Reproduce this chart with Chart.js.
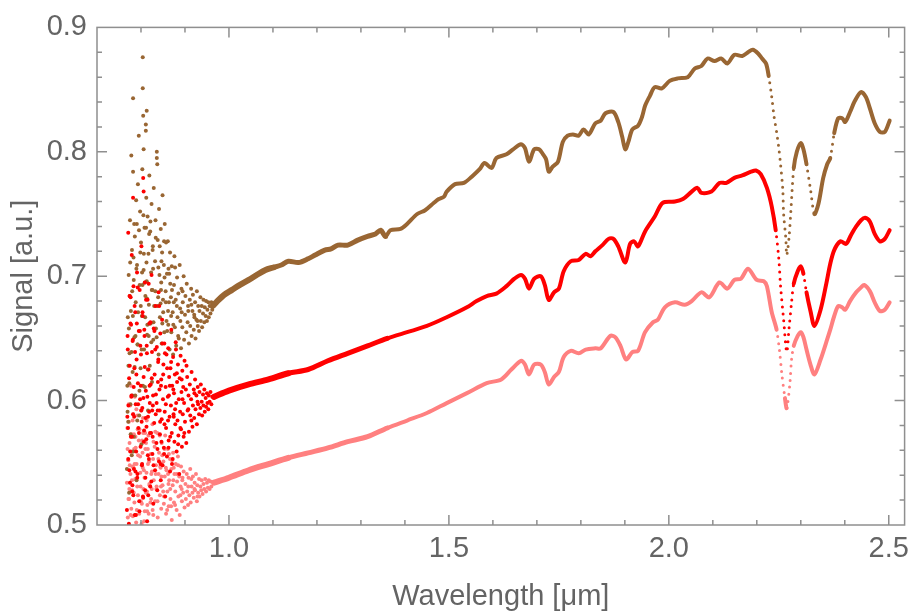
<!DOCTYPE html>
<html>
<head>
<meta charset="utf-8">
<script src="https://cdn.jsdelivr.net/npm/chart.js@4.4.0/dist/chart.umd.min.js"></script>
<style>
  html, body { margin: 0; padding: 0; background: #fff; }
</style>
</head>
<body>
<canvas id="spectrumChart" width="916" height="612"></canvas>
<script>
// tick values
const xTickValues = [1.0, 1.5, 2.0, 2.5];
const yTickValues = [0.5, 0.6, 0.7, 0.8, 0.9];

// noisy short-wavelength part, [wavelength, signal]
const brownCloud = [
    [0.768,0.545],[0.769,0.612],[0.770,0.667],[0.771,0.583],[0.772,0.701],[0.773,0.526],[0.774,0.638],[0.775,0.745],[0.776,0.597],[0.777,0.672],
    [0.778,0.797],[0.779,0.556],[0.780,0.688],[0.781,0.623],[0.782,0.784],[0.782,0.843],[0.783,0.715],[0.784,0.571],[0.785,0.651],[0.786,0.732],
    [0.787,0.604],[0.788,0.679],[0.789,0.761],[0.790,0.536],[0.791,0.709],[0.792,0.645],[0.793,0.774],[0.795,0.813],[0.796,0.588],[0.797,0.693],
    [0.798,0.752],[0.799,0.626],[0.800,0.727],[0.801,0.565],[0.802,0.668],[0.803,0.786],[0.804,0.876],[0.804,0.851],[0.805,0.829],[0.806,0.802],
    [0.806,0.705],[0.807,0.641],[0.808,0.739],[0.809,0.611],[0.810,0.684],[0.811,0.822],[0.811,0.817],[0.812,0.763],[0.813,0.833],[0.813,0.696],
    [0.814,0.653],[0.815,0.748],[0.816,0.592],[0.817,0.718],[0.818,0.677],[0.819,0.781],[0.820,0.628],[0.821,0.736],[0.822,0.662],[0.823,0.703],
    [0.824,0.758],[0.825,0.615],[0.826,0.689],[0.827,0.724],[0.828,0.649],[0.829,0.771],[0.830,0.676],[0.832,0.712],[0.833,0.745],[0.834,0.658],
    [0.836,0.800],[0.836,0.795],[0.837,0.790],[0.838,0.729],[0.839,0.683],[0.840,0.637],[0.841,0.754],[0.842,0.701],[0.843,0.667],[0.845,0.738],
    [0.846,0.695],[0.847,0.646],[0.848,0.719],[0.849,0.765],[0.850,0.681],[0.852,0.709],[0.853,0.655],[0.854,0.742],[0.856,0.688],[0.857,0.727],
    [0.858,0.664],[0.859,0.702],[0.861,0.728],[0.862,0.661],[0.864,0.702],[0.865,0.641],[0.866,0.719],[0.868,0.683],[0.869,0.655],[0.870,0.708],
    [0.872,0.671],[0.873,0.637],[0.875,0.693],[0.876,0.716],[0.877,0.659],[0.879,0.681],[0.880,0.644],[0.882,0.699],[0.883,0.667],[0.885,0.686],
    [0.886,0.650],[0.888,0.709],[0.889,0.674],[0.891,0.642],[0.892,0.690],[0.894,0.659],[0.895,0.679],[0.897,0.700],[0.898,0.649],[0.900,0.669],
    [0.901,0.684],[0.903,0.655],[0.904,0.694],[0.906,0.663],[0.907,0.676],[0.909,0.646],[0.911,0.681],[0.912,0.660],[0.914,0.690],[0.915,0.652],
    [0.917,0.672],[0.918,0.685],[0.920,0.657],[0.921,0.669],[0.923,0.679],[0.924,0.650],[0.926,0.665],[0.927,0.688],[0.929,0.660],[0.930,0.676],
    [0.932,0.656],[0.933,0.672],[0.935,0.683],[0.936,0.664],[0.938,0.676],[0.939,0.659],[0.941,0.670],[0.942,0.681],[0.944,0.663],[0.945,0.675],
    [0.947,0.668],[0.948,0.680],[0.950,0.664],[0.951,0.673],[0.953,0.679],[0.954,0.667],[0.956,0.676],[0.958,0.670],[0.960,0.679],[0.962,0.673],
    [0.7715,0.628],[0.8035,0.693],[0.7825,0.559],[0.8455,0.689],[0.8125,0.711],[0.7905,0.742],[0.8285,0.663],[0.7745,0.684],[0.8615,0.672],[0.7965,0.608],
    [0.8175,0.652],[0.7795,0.721],[0.8395,0.707],[0.8055,0.749],[0.7695,0.591],[0.8525,0.728],[0.8245,0.689],[0.7875,0.652],[0.8735,0.661],[0.8095,0.667],
    [0.7765,0.573],[0.8335,0.731],[0.7985,0.719],[0.8665,0.694],[0.8155,0.625],[0.7835,0.697],[0.8485,0.662],[0.8015,0.641],[0.7725,0.658],[0.8565,0.679],
    [0.8215,0.744],[0.7935,0.671],[0.8815,0.676],[0.8375,0.676],[0.7855,0.627],[0.8135,0.682],[0.8705,0.689],[0.7755,0.711],[0.8425,0.724],[0.8045,0.612],
    [0.8895,0.664],[0.8275,0.706],[0.7915,0.584],[0.8595,0.656],[0.8185,0.734],[0.7815,0.668],[0.8465,0.712],[0.7995,0.676],[0.8775,0.707],[0.8325,0.688],
    [0.9075,0.672],[0.8635,0.679],[0.8235,0.647],[0.7895,0.706],[0.8945,0.688],[0.8065,0.718],[0.7785,0.639],[0.8535,0.699],[0.8195,0.662],[0.7955,0.737],
    [0.8845,0.652],[0.8355,0.651],[0.7735,0.614],[0.8115,0.739],[0.8685,0.668],[0.7845,0.742],[0.8505,0.671],[0.8025,0.703],[0.9215,0.667],[0.8265,0.721],
    [0.7925,0.645],[0.8745,0.679],[0.8145,0.661],[0.7805,0.604],[0.8445,0.678],[0.8085,0.695],[0.8925,0.671],[0.9145,0.677],[0.8625,0.706],[0.9285,0.664]
];
const redCloud = [
    [0.768,0.512],[0.769,0.587],[0.770,0.641],[0.771,0.553],[0.772,0.498],[0.773,0.618],[0.774,0.684],[0.775,0.534],[0.776,0.662],[0.777,0.571],
    [0.778,0.603],[0.779,0.717],[0.780,0.527],[0.781,0.648],[0.782,0.589],[0.783,0.692],[0.784,0.545],[0.785,0.626],[0.786,0.508],[0.787,0.671],
    [0.788,0.597],[0.789,0.559],[0.790,0.633],[0.791,0.703],[0.792,0.541],[0.793,0.614],[0.794,0.578],[0.795,0.656],[0.796,0.519],[0.797,0.689],
    [0.798,0.601],[0.799,0.563],[0.800,0.637],[0.801,0.724],[0.802,0.548],[0.803,0.594],[0.804,0.668],[0.805,0.522],[0.806,0.619],[0.807,0.576],
    [0.808,0.652],[0.809,0.695],[0.810,0.538],[0.811,0.608],[0.812,0.569],[0.813,0.644],[0.814,0.503],[0.815,0.681],[0.816,0.587],[0.817,0.625],
    [0.818,0.553],[0.819,0.662],[0.820,0.598],[0.821,0.531],[0.822,0.613],[0.823,0.574],[0.824,0.701],[0.825,0.639],[0.826,0.557],[0.827,0.596],
    [0.828,0.517],[0.829,0.658],[0.830,0.582],[0.831,0.621],[0.832,0.544],[0.833,0.676],[0.834,0.605],[0.835,0.566],[0.836,0.643],[0.837,0.528],
    [0.838,0.592],[0.839,0.631],[0.840,0.687],[0.841,0.551],[0.842,0.609],[0.843,0.573],[0.844,0.654],[0.845,0.536],[0.846,0.617],[0.847,0.585],
    [0.848,0.665],[0.849,0.548],[0.850,0.601],[0.851,0.629],[0.852,0.562],[0.853,0.646],[0.854,0.591],[0.855,0.523],[0.856,0.611],[0.857,0.578],
    [0.858,0.637],[0.859,0.555],[0.861,0.603],[0.862,0.642],[0.863,0.568],[0.864,0.619],[0.865,0.587],[0.866,0.543],[0.867,0.626],[0.868,0.596],
    [0.869,0.657],[0.870,0.574],[0.871,0.612],[0.872,0.553],[0.873,0.635],[0.874,0.589],[0.875,0.606],[0.876,0.567],[0.877,0.621],[0.878,0.581],
    [0.879,0.647],[0.880,0.598],[0.881,0.559],[0.882,0.615],[0.883,0.584],[0.884,0.629],[0.885,0.572],[0.886,0.601],[0.887,0.541],[0.888,0.618],
    [0.889,0.591],[0.890,0.636],[0.891,0.577],[0.892,0.607],[0.893,0.563],[0.894,0.624],[0.895,0.589],[0.896,0.611],[0.897,0.571],[0.898,0.598],
    [0.899,0.632],[0.900,0.583],[0.902,0.609],[0.903,0.566],[0.905,0.619],[0.906,0.592],[0.908,0.604],[0.909,0.575],[0.911,0.613],[0.912,0.588],
    [0.914,0.601],[0.915,0.623],[0.917,0.579],[0.918,0.596],[0.920,0.609],[0.921,0.586],[0.923,0.617],[0.924,0.593],[0.926,0.604],[0.927,0.581],
    [0.929,0.611],[0.930,0.597],[0.932,0.589],[0.933,0.607],[0.935,0.594],[0.936,0.613],[0.938,0.599],[0.939,0.588],[0.941,0.605],[0.942,0.596],
    [0.944,0.609],[0.945,0.591],[0.947,0.602],[0.948,0.595],[0.950,0.606],[0.951,0.598],[0.953,0.593],[0.954,0.604],[0.956,0.599],[0.958,0.607],
    [0.960,0.597],[0.962,0.603],[0.805,0.779],[0.782,0.763],[0.806,0.768],[0.771,0.735],
    [0.7715,0.596],[0.8035,0.671],[0.7825,0.524],[0.8455,0.612],[0.8125,0.579],[0.7905,0.662],[0.8285,0.548],[0.7745,0.628],[0.8615,0.584],[0.7965,0.511],
    [0.8175,0.694],[0.7795,0.571],[0.8395,0.633],[0.8055,0.602],[0.7695,0.652],[0.8525,0.557],[0.8245,0.618],[0.7875,0.543],[0.8735,0.609],[0.8095,0.528],
    [0.7765,0.683],[0.8335,0.589],[0.7985,0.644],[0.8665,0.571],[0.8155,0.556],[0.7835,0.611],[0.8485,0.646],[0.8015,0.583],[0.7725,0.501],[0.8565,0.597],
    [0.8215,0.663],[0.7935,0.597],[0.8815,0.622],[0.8375,0.561],[0.7855,0.676],[0.8135,0.638],[0.8705,0.549],[0.7755,0.559],[0.8425,0.592],[0.8045,0.523],
    [0.8895,0.578],[0.8275,0.604],[0.7915,0.538],[0.8595,0.626],[0.8185,0.591],[0.7815,0.649],[0.8465,0.567],[0.7995,0.612],[0.8775,0.593],[0.8325,0.641],
    [0.7705,0.578],[0.8075,0.657],[0.8635,0.604],[0.8235,0.535],[0.7895,0.621],[0.8945,0.601],[0.8415,0.676],[0.8065,0.567],[0.7785,0.604],[0.8535,0.581],
    [0.8195,0.612],[0.7955,0.574],[0.8845,0.565],[0.8355,0.598],[0.7735,0.544],[0.8115,0.681],[0.8685,0.631],[0.7845,0.587],[0.8505,0.621],[0.8025,0.549],
    [0.9075,0.593],[0.8265,0.571],[0.7925,0.691],[0.8745,0.587],[0.8145,0.603],[0.7805,0.532],[0.8445,0.549],[0.8085,0.627],[0.8925,0.617],[0.8305,0.656],
    [0.9215,0.606],[0.8625,0.562],[0.7975,0.656],[0.8385,0.615],[0.7885,0.508],[0.8205,0.574],[0.8795,0.641],[0.8005,0.592],[0.9145,0.584],[0.8545,0.638],
    [0.7775,0.661],[0.8255,0.592],[0.8985,0.574],[0.8165,0.524],[0.9035,0.628],[0.8435,0.583],[0.7865,0.639],[0.9285,0.599],[0.8655,0.612],[0.8105,0.586]
];
const pinkCloud = [
    [0.768,0.534],[0.769,0.578],[0.770,0.506],[0.771,0.552],[0.772,0.597],[0.773,0.521],[0.774,0.566],[0.775,0.489],[0.776,0.541],[0.777,0.612],
    [0.778,0.513],[0.779,0.559],[0.780,0.528],[0.781,0.584],[0.782,0.497],[0.783,0.546],[0.784,0.573],[0.785,0.518],[0.786,0.603],[0.787,0.537],
    [0.788,0.562],[0.789,0.502],[0.790,0.549],[0.792,0.588],[0.793,0.524],[0.795,0.568],[0.796,0.509],[0.798,0.555],[0.799,0.531],[0.801,0.592],
    [0.802,0.517],[0.804,0.546],[0.805,0.574],[0.807,0.503],[0.808,0.538],[0.810,0.561],[0.811,0.526],[0.813,0.584],[0.814,0.511],[0.816,0.549],
    [0.817,0.572],[0.819,0.533],[0.820,0.498],[0.822,0.557],[0.823,0.521],[0.825,0.543],[0.826,0.581],[0.828,0.508],[0.829,0.536],[0.831,0.563],
    [0.832,0.519],[0.834,0.548],[0.835,0.529],[0.837,0.574],[0.838,0.506],[0.840,0.541],[0.841,0.558],[0.843,0.524],[0.844,0.547],[0.846,0.513],
    [0.847,0.566],[0.849,0.532],[0.851,0.551],[0.852,0.517],[0.854,0.539],[0.855,0.572],[0.857,0.509],[0.858,0.544],[0.860,0.527],[0.861,0.561],
    [0.863,0.515],[0.864,0.536],[0.866,0.553],[0.867,0.521],[0.869,0.545],[0.870,0.504],[0.872,0.532],[0.873,0.558],[0.875,0.518],[0.876,0.541],
    [0.878,0.527],[0.879,0.549],[0.881,0.512],[0.882,0.535],[0.884,0.555],[0.885,0.523],[0.887,0.539],[0.888,0.508],[0.890,0.531],[0.891,0.547],
    [0.893,0.519],[0.894,0.536],[0.896,0.526],[0.897,0.543],[0.899,0.514],[0.901,0.533],[0.902,0.521],[0.904,0.541],[0.905,0.527],[0.907,0.516],
    [0.908,0.538],[0.910,0.524],[0.912,0.545],[0.913,0.518],[0.915,0.531],[0.917,0.526],[0.918,0.539],[0.920,0.522],[0.922,0.534],[0.923,0.528],
    [0.925,0.541],[0.927,0.519],[0.928,0.532],[0.930,0.526],[0.932,0.537],[0.933,0.523],[0.935,0.531],[0.937,0.528],[0.938,0.536],[0.940,0.525],
    [0.942,0.533],[0.944,0.529],[0.946,0.537],[0.948,0.527],[0.950,0.534],[0.952,0.530],[0.954,0.536],[0.956,0.529],[0.958,0.535],[0.960,0.531],
    [0.7715,0.521],[0.8035,0.558],[0.7825,0.589],[0.8455,0.531],[0.8125,0.542],[0.7905,0.512],[0.8285,0.567],[0.7745,0.548],[0.8615,0.541],[0.7965,0.577],
    [0.8175,0.509],[0.7795,0.536],[0.8395,0.553],[0.8055,0.529],[0.7695,0.561],[0.8525,0.523],[0.8245,0.529],[0.7875,0.571],[0.8735,0.536],[0.8095,0.574],
    [0.7765,0.508],[0.8335,0.541],[0.7985,0.542],[0.8665,0.529],[0.8155,0.561],[0.7835,0.526],[0.8485,0.556],[0.8015,0.501],[0.7725,0.583],[0.8565,0.546],
    [0.8215,0.518],[0.7935,0.556],[0.8815,0.541],[0.8375,0.519],[0.7855,0.549],[0.8135,0.527],[0.8705,0.552],[0.7755,0.596],[0.8425,0.572],[0.8045,0.586],
    [0.8895,0.524],[0.8275,0.553],[0.7915,0.531],[0.8595,0.512],[0.8185,0.551],[0.7815,0.507],[0.8465,0.539],[0.7995,0.519],[0.8775,0.516],[0.8325,0.575],
    [0.9075,0.531],[0.8635,0.557],[0.8235,0.541],[0.7895,0.593],[0.8945,0.538],[0.8065,0.544],[0.7785,0.573],[0.8535,0.561],[0.8195,0.532],[0.7955,0.498],
    [0.8845,0.548],[0.8355,0.531],[0.7735,0.529],[0.8115,0.566],[0.8685,0.515],[0.7845,0.561],[0.8505,0.527],[0.8025,0.568],[0.9215,0.529],[0.8265,0.512],
    [0.7925,0.577],[0.8745,0.546],[0.8145,0.516],[0.7805,0.547],[0.8445,0.546],[0.8085,0.511],[0.8925,0.529],[0.9145,0.537],[0.8625,0.533],[0.9285,0.523]
];

// smooth part of each spectrum
const brownX = [0.963,0.971,0.989,1.007,1.025,1.045,1.063,1.083,1.101,1.119,1.135,1.158,1.180,1.196,1.218,1.232,1.248,1.270,1.293,1.315,
    1.333,1.345,1.356,1.367,1.390,1.405,1.428,1.446,1.466,1.477,1.489,1.495,1.514,1.534,1.552,1.570,1.581,1.597,1.608,1.631,
    1.646,1.664,1.673,1.682,1.694,1.705,1.714,1.721,1.727,1.736,1.748,1.759,1.770,1.782,1.795,1.806,1.818,1.833,1.845,1.856,
    1.874,1.885,1.894,1.901,1.908,1.917,1.930,1.939,1.946,1.957,1.968,1.984,2.002,2.020,2.043,2.059,2.074,2.088,2.104,2.119,
    2.133,2.149,2.167,2.180,2.191,2.203,2.212,2.221,2.227,2.234,2.239,2.245,2.250,2.254,2.259,2.261,2.266,2.268,2.273,2.277,
    2.284,2.291,2.300,2.306,2.313,2.322,2.331,2.340,2.351,2.360,2.367,2.376,2.385,2.394,2.401,2.412,2.423,2.437,2.448,2.457,
    2.468,2.480,2.491,2.502];
const brownY = [0.676,0.679,0.685,0.689,0.693,0.697,0.701,0.705,0.707,0.709,0.712,0.711,0.714,0.717,0.721,0.722,0.725,0.725,0.729,0.732,
    0.734,0.737,0.732,0.737,0.738,0.742,0.750,0.753,0.759,0.762,0.764,0.768,0.774,0.775,0.780,0.786,0.791,0.787,0.795,0.798,
    0.802,0.806,0.803,0.792,0.802,0.802,0.798,0.794,0.784,0.788,0.792,0.808,0.813,0.814,0.813,0.818,0.814,0.823,0.825,0.831,
    0.832,0.824,0.812,0.802,0.808,0.818,0.821,0.828,0.837,0.845,0.852,0.851,0.857,0.859,0.860,0.867,0.869,0.875,0.873,0.875,
    0.871,0.878,0.877,0.880,0.882,0.879,0.875,0.871,0.861,0.844,0.829,0.816,0.803,0.790,0.770,0.750,0.730,0.717,0.730,0.750,
    0.787,0.800,0.807,0.802,0.790,0.770,0.750,0.758,0.779,0.790,0.795,0.815,0.827,0.827,0.824,0.832,0.841,0.848,0.844,0.835,
    0.823,0.816,0.816,0.825];
const redX = [0.966,1.000,1.045,1.090,1.135,1.180,1.225,1.270,1.315,1.360,1.405,1.450,1.495,1.541,1.563,1.586,1.608,1.631,1.649,1.664,
    1.673,1.682,1.694,1.709,1.718,1.727,1.739,1.750,1.761,1.777,1.795,1.811,1.822,1.833,1.849,1.863,1.874,1.885,1.901,1.912,
    1.921,1.930,1.946,1.968,1.986,2.014,2.032,2.052,2.065,2.074,2.097,2.115,2.131,2.149,2.167,2.187,2.198,2.209,2.223,2.234,
    2.243,2.250,2.254,2.261,2.268,2.273,2.279,2.284,2.293,2.300,2.306,2.313,2.322,2.331,2.345,2.358,2.367,2.376,2.390,2.403,
    2.414,2.426,2.437,2.446,2.457,2.468,2.480,2.491,2.502];
const redY = [0.603,0.608,0.613,0.617,0.622,0.625,0.632,0.638,0.644,0.650,0.655,0.660,0.667,0.675,0.680,0.684,0.686,0.692,0.698,0.701,
    0.698,0.690,0.698,0.700,0.693,0.681,0.687,0.690,0.704,0.712,0.713,0.718,0.716,0.720,0.725,0.730,0.730,0.724,0.711,0.726,
    0.728,0.724,0.736,0.748,0.759,0.760,0.762,0.768,0.771,0.767,0.768,0.775,0.775,0.779,0.781,0.784,0.785,0.782,0.771,0.756,
    0.737,0.714,0.692,0.665,0.639,0.657,0.679,0.694,0.704,0.708,0.702,0.687,0.672,0.660,0.673,0.694,0.710,0.721,0.728,0.726,
    0.733,0.740,0.745,0.747,0.744,0.734,0.728,0.730,0.737];
const pinkX = [0.966,1.000,1.045,1.090,1.135,1.180,1.225,1.270,1.315,1.360,1.405,1.450,1.495,1.541,1.586,1.619,1.642,1.664,1.673,1.682,
    1.694,1.709,1.718,1.727,1.739,1.750,1.761,1.777,1.795,1.811,1.833,1.845,1.867,1.878,1.890,1.903,1.917,1.930,1.946,1.964,
    1.975,1.991,2.014,2.036,2.052,2.074,2.092,2.115,2.133,2.149,2.164,2.180,2.200,2.216,2.223,2.234,2.245,2.252,2.257,2.264,
    2.268,2.275,2.279,2.284,2.293,2.300,2.306,2.313,2.322,2.331,2.345,2.358,2.367,2.376,2.385,2.394,2.401,2.412,2.426,2.437,
    2.444,2.457,2.468,2.480,2.491,2.502];
const pinkY = [0.534,0.538,0.544,0.549,0.554,0.558,0.562,0.567,0.571,0.578,0.584,0.590,0.598,0.606,0.614,0.617,0.625,0.632,0.629,0.621,
    0.629,0.629,0.623,0.613,0.619,0.623,0.635,0.640,0.638,0.641,0.642,0.642,0.652,0.651,0.644,0.633,0.639,0.640,0.655,0.663,
    0.665,0.675,0.679,0.677,0.680,0.687,0.683,0.695,0.690,0.697,0.698,0.706,0.697,0.696,0.692,0.671,0.657,0.639,0.621,0.602,
    0.594,0.613,0.633,0.644,0.652,0.655,0.651,0.641,0.629,0.621,0.633,0.647,0.657,0.668,0.676,0.675,0.673,0.680,0.687,0.691,
    0.693,0.688,0.679,0.672,0.673,0.679];

const BROWN = '#996633';
const RED = '#ff0000';
const PINK = '#ff8080';

function pairs(xs, ys) {
    return xs.map((x, i) => ({x: x, y: ys[i]}));
}

// only the very steep parts of the spectrum break up into separate dots
function isSteep(ctx) {
    let dx = Math.abs(ctx.p1.x - ctx.p0.x);
    let dy = Math.abs(ctx.p1.y - ctx.p0.y);
    return dy > 6 * dx && dy > 12;
}

function lineWidthAt(x) {
    if (x < 1.1) return 6;
    if (x < 1.35) return 5;
    return 4;
}

function cloudDataset(label, points, color) {
    return {
        label: label,
        data: points.map(p => ({x: p[0], y: p[1]})),
        showLine: false,
        pointRadius: 2,
        pointBorderWidth: 0,
        pointBackgroundColor: color,
        clip: 0
    };
}

function curveDataset(label, xs, ys, color) {
    return {
        label: label,
        data: pairs(xs, ys),
        showLine: true,
        pointRadius: 0,
        borderColor: color,
        borderWidth: 4,
        borderCapStyle: 'round',
        borderJoinStyle: 'round',
        tension: 0.3,
        clip: 0,
        segment: {
            borderDash: ctx => isSteep(ctx) ? [0, 7] : undefined,
            borderWidth: ctx => isSteep(ctx) ? 3 : lineWidthAt(ctx.p0.parsed.x)
        }
    };
}

const frameTicks = {
    id: 'frameTicks',
    afterDatasetsDraw(chart) {
        const {ctx, chartArea: a, scales: {x, y}} = chart;
        ctx.save();
        ctx.strokeStyle = '#8f8f8f';
        ctx.lineWidth = 1.5;
        ctx.strokeRect(a.left, a.top, a.right - a.left, a.bottom - a.top);
        ctx.beginPath();
        for (let i = 8; i <= 25; i++) {
            let px = x.getPixelForValue(i / 10);
            let len = i % 5 === 0 ? 10 : 5;
            ctx.moveTo(px, a.bottom); ctx.lineTo(px, a.bottom - len);
            ctx.moveTo(px, a.top); ctx.lineTo(px, a.top + len);
        }
        for (let j = 26; j <= 44; j++) {
            let py = y.getPixelForValue(j / 50);
            let len = j % 5 === 0 ? 10 : 5;
            ctx.moveTo(a.left, py); ctx.lineTo(a.left + len, py);
            ctx.moveTo(a.right, py); ctx.lineTo(a.right - len, py);
        }
        ctx.stroke();
        ctx.restore();
    }
};

Chart.defaults.font.family = '"Liberation Sans", Arial, sans-serif';
Chart.defaults.color = '#646464';

const tickFont = {size: 29, lineHeight: 1.2};
const titleFont = {size: 29, lineHeight: 1.0};

new Chart(document.getElementById('spectrumChart').getContext('2d'), {
    type: 'scatter',
    data: {
        datasets: [
            cloudDataset('red noise', redCloud, RED),
            curveDataset('red', redX, redY, RED),
            cloudDataset('brown noise', brownCloud, BROWN),
            curveDataset('brown', brownX, brownY, BROWN),
            cloudDataset('pink noise', pinkCloud, PINK),
            curveDataset('pink', pinkX, pinkY, PINK)
        ]
    },
    options: {
        responsive: false,
        animation: false,
        layout: {padding: {top: 21, right: 4, left: 0, bottom: 0}},
        plugins: {
            legend: {display: false},
            tooltip: {enabled: false}
        },
        scales: {
            x: {
                type: 'linear',
                min: 0.7,
                max: 2.536,
                grid: {display: false, drawTicks: false},
                border: {display: false},
                afterBuildTicks: scale => { scale.ticks = xTickValues.map(v => ({value: v})); },
                afterFit: scale => { scale.height = 87; },
                ticks: {
                    padding: 7,
                    font: tickFont,
                    maxRotation: 0,
                    callback: v => v.toFixed(1)
                },
                title: {
                    display: true,
                    text: 'Wavelength [μm]',
                    font: titleFont,
                    padding: {top: 0, bottom: 1}
                }
            },
            y: {
                type: 'linear',
                min: 0.5,
                max: 0.9,
                grid: {display: false, drawTicks: false},
                border: {display: false},
                afterBuildTicks: scale => { scale.ticks = yTickValues.map(v => ({value: v})); },
                afterFit: scale => { scale.width = 97; },
                ticks: {
                    padding: 10,
                    font: tickFont,
                    callback: v => v.toFixed(1)
                },
                title: {
                    display: true,
                    text: 'Signal [a.u.]',
                    font: titleFont,
                    padding: {top: 9, bottom: 0}
                }
            }
        }
    },
    plugins: [frameTicks]
});
</script>
</body>
</html>
